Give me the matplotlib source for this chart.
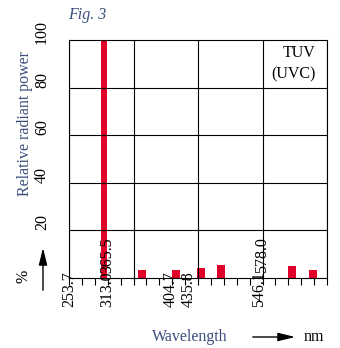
import matplotlib
matplotlib.use('Agg')
import matplotlib.pyplot as plt
import matplotlib.transforms as mtransforms
from matplotlib.ticker import MultipleLocator

#--------------------------------------------------------------------------------------------------
# DATA
#--------------------------------------------------------------------------------------------------

# spectral lines of the TUV lamp [nm] and their relative power [%]
wavelength = [253.7, 313.0, 365.5, 404.7, 435.8, 546.1, 578.0]
power = [100, 3.4, 3.4, 4.2, 5.5, 5.0, 3.4]

# line labels, placed where they sit in the original figure (not on their lines)
label_text = ['253.7', '313.0', '365.5', '404.7', '435.8', '546.1', '578.0']
label_pos = [200, 260, 259, 357, 385, 495, 500]
label_inside = [False, False, True, False, False, False, True]

y_ticks = [20, 40, 60, 80, 100]

#--------------------------------------------------------------------------------------------------
# PLOT
#--------------------------------------------------------------------------------------------------

red = '#e0002a'
navy = '#3b4e7c'

plt.rcParams['font.family'] = ['Liberation Serif', 'DejaVu Serif']
plt.rcParams['font.size'] = 11.5

fig = plt.figure(figsize=(3.4, 3.48), dpi=100)
ax = fig.add_axes([69 / 340, 70 / 348, 258 / 340, 238 / 348])

widths = [9] + [12] * (len(wavelength) - 1)
ax.bar(wavelength, power, width=widths, color=red, zorder=1)

ax.set_xlim(200, 600)
ax.set_ylim(0, 100)
ax.xaxis.set_major_locator(MultipleLocator(100))
ax.xaxis.set_minor_locator(MultipleLocator(20))
ax.set_yticks(y_ticks[:-1])
ax.set_axisbelow(False)
ax.grid(True, which='major', color='black', lw=0.8)
ax.tick_params(axis='x', which='both', direction='out', length=5, width=0.8,
               labelbottom=False)
ax.tick_params(axis='y', length=0, labelleft=False)
for s in ax.spines.values():
    s.set_linewidth(0.8)

# y tick labels, rotated
ytr = mtransforms.offset_copy(ax.get_yaxis_transform(), fig=fig, x=0, y=8, units='dots')
for v in y_ticks:
    ax.text(-0.105, v, str(v), transform=ytr, rotation=90, ha='center', va='center',
            clip_on=False)

# wavelength labels
below = mtransforms.offset_copy(ax.get_xaxis_transform(), fig=fig, x=0, y=-29, units='dots')
above = mtransforms.offset_copy(ax.get_xaxis_transform(), fig=fig, x=0, y=5, units='dots')
for txt, x, inside in zip(label_text, label_pos, label_inside):
    ax.text(x, 0, txt, transform=above if inside else below, rotation=90,
            ha='center', va='bottom', clip_on=False, zorder=4)

ax.text(0.957, 0.90, 'TUV\n(UVC)', transform=ax.transAxes, ha='right', va='center',
        multialignment='right', linespacing=1.5)

fig.text(68 / 340, 1 - 19 / 348, 'Fig. 3', style='italic', color=navy, va='baseline')
fig.text(25 / 340, 1 - 123 / 348, 'Relative radiant power', rotation=90, color=navy,
         ha='center', va='center')
fig.text(23 / 340, 1 - 276 / 348, '%', rotation=90, ha='center', va='center')
ax.annotate('', xy=(43 / 340, 1 - 245 / 348), xytext=(43 / 340, 1 - 293 / 348),
            xycoords='figure fraction', textcoords='figure fraction',
            arrowprops=dict(arrowstyle='-|>,head_length=0.9,head_width=0.22',
                            color='black', lw=1))

fig.text(190 / 340, 1 - 337 / 348, 'Wavelength', color=navy, ha='center', va='center')
ax.annotate('', xy=(298 / 340, 1 - 337 / 348), xytext=(250 / 340, 1 - 337 / 348),
            xycoords='figure fraction', textcoords='figure fraction',
            arrowprops=dict(arrowstyle='-|>,head_length=0.9,head_width=0.22',
                            color='black', lw=1))
fig.text(304 / 340, 1 - 337 / 348, 'nm', ha='left', va='center')

fig.savefig('out.png', dpi=100)
